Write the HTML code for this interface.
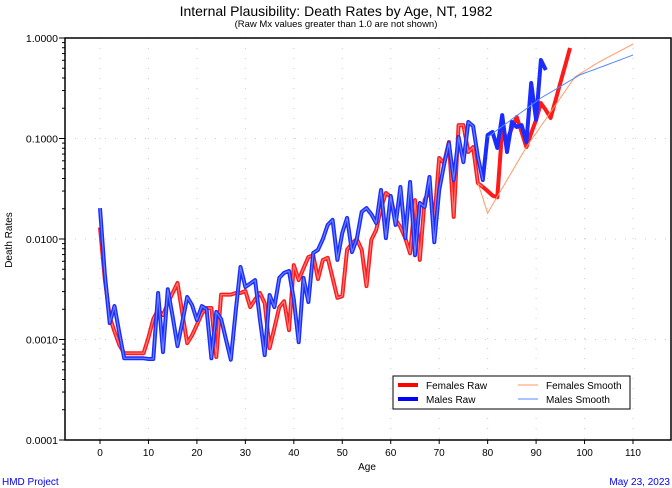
<!DOCTYPE html>
<html><head><meta charset="utf-8"><style>
body{margin:0;background:#fff;}
svg{display:block;font-family:"Liberation Sans",sans-serif;}
</style></head><body>
<svg id="chart" width="672" height="488" viewBox="0 0 672 488" xmlns="http://www.w3.org/2000/svg">
<text x="336" y="16" text-anchor="middle" font-size="14">Internal Plausibility: Death Rates by Age, NT, 1982</text>
<text x="336" y="27" text-anchor="middle" font-size="9.5">(Raw Mx values greater than 1.0 are not shown)</text>
<g id="grid"></g>
<g id="axes"></g>
<g id="series"></g>
<rect x="65" y="38" width="606" height="402" fill="none" stroke="#000" stroke-width="1.5"/>
<text transform="translate(12,240) rotate(-90)" text-anchor="middle" font-size="10">Death Rates</text>
<text x="367" y="470" text-anchor="middle" font-size="10">Age</text>
<g>
<rect x="393" y="376" width="237" height="33" fill="#fff" stroke="#000" stroke-width="1"/>
<line x1="398" y1="385" x2="418" y2="385" stroke="#ff0000" stroke-width="4"/>
<text x="426" y="389" font-size="10">Females Raw</text>
<line x1="398" y1="399" x2="418" y2="399" stroke="#0000ff" stroke-width="4"/>
<text x="426" y="403" font-size="10">Males Raw</text>
<line x1="518" y1="385" x2="538" y2="385" stroke="#ff9966" stroke-width="1"/>
<text x="546" y="389" font-size="10">Females Smooth</text>
<line x1="518" y1="399" x2="538" y2="399" stroke="#5588ff" stroke-width="1"/>
<text x="546" y="403" font-size="10">Males Smooth</text>
</g>
<text x="2" y="485" font-size="10" fill="#0000ff">HMD Project</text>
<text x="670" y="485" text-anchor="end" font-size="10" fill="#0000ff">May 23, 2023</text>
</svg>
<script>
const xTicks=[0,10,20,30,40,50,60,70,80,90,100,110];
const yTicks=[1,0.1,0.01,0.001,0.0001];
const yTickLabels=["1.0000","0.1000","0.0100","0.0010","0.0001"];
const femalesRaw=[0.013,0.004,0.00168,0.0012,0.00088,0.00073,0.00073,0.00073,0.00073,0.00073,0.00105,0.0016,0.00197,0.00175,0.0023,0.0029,0.00365,0.0018,0.00092,0.0011,0.0014,0.0018,0.00206,0.00206,0.00067,0.0028,0.0028,0.0028,0.0029,0.0029,0.00304,0.0021,0.0025,0.0029,0.0023,0.00082,0.0013,0.0021,0.0024,0.00124,0.0055,0.0039,0.0051,0.0066,0.0069,0.004,0.0062,0.0065,0.0041,0.0026,0.0027,0.0078,0.009,0.01,0.0078,0.0034,0.0098,0.0123,0.0203,0.0287,0.0263,0.0155,0.0132,0.0102,0.0072,0.0244,0.0062,0.0244,0.0307,0.0155,0.064,0.057,0.0923,0.0166,0.136,0.136,0.0734,0.0822,0.036,0.033,0.030,0.027,0.026,0.122,0.097,0.127,0.164,0.116,0.0822,0.113,0.153,0.225,0.192,0.16,0.239,0.357,0.532,0.795];
const malesRaw=[0.0203,0.0045,0.00146,0.00215,0.00115,0.00065,0.00065,0.00065,0.00065,0.00065,0.00064,0.00064,0.0029,0.00075,0.00316,0.00168,0.00086,0.0015,0.00265,0.0022,0.00156,0.00215,0.002,0.00065,0.00188,0.0016,0.001,0.00063,0.0019,0.00527,0.00333,0.0036,0.0039,0.0016,0.0007,0.00277,0.0021,0.0041,0.0046,0.0048,0.0025,0.00094,0.0041,0.00236,0.00726,0.0078,0.01,0.0138,0.0155,0.0062,0.0115,0.0162,0.0074,0.01,0.0186,0.0203,0.0177,0.0144,0.0307,0.0102,0.0268,0.0138,0.0329,0.0102,0.0369,0.0069,0.0228,0.0208,0.0414,0.0093,0.0307,0.0545,0.0902,0.0386,0.1035,0.0583,0.146,0.133,0.0655,0.0386,0.108,0.116,0.0804,0.171,0.0734,0.146,0.13,0.136,0.0923,0.357,0.153,0.604,0.48];
const smoothStartF=78;
const femalesSmooth=[0.036,0.0257,0.018,0.0219,0.0265,0.032,0.0386,0.0467,0.0564,0.068,0.0822,0.0966,0.113,0.133,0.156,0.184,0.215,0.253,0.297,0.348,0.409,0.439,0.47,0.503,0.54,0.577,0.612,0.65,0.689,0.731,0.774,0.822,0.871];
const smoothStartM=80;
const malesSmooth=[0.1035,0.112,0.122,0.132,0.143,0.156,0.169,0.183,0.198,0.215,0.233,0.253,0.27,0.288,0.308,0.33,0.352,0.376,0.401,0.428,0.447,0.466,0.485,0.506,0.527,0.55,0.573,0.597,0.623,0.65,0.678];

const NS="http://www.w3.org/2000/svg";
const X=a=>100+a*(533/110);
const Y=v=>38-Math.log10(v)*100.5;
function mk(tag,attrs,parent){const e=document.createElementNS(NS,tag);for(const k in attrs)e.setAttribute(k,attrs[k]);parent.appendChild(e);return e;}
const grid=document.getElementById('grid'),axes=document.getElementById('axes'),ser=document.getElementById('series');
xTicks.forEach(t=>{
  const g=mk('line',{x1:X(t),x2:X(t),y1:38,y2:440,stroke:'#ccc','stroke-dasharray':'1,9'},grid);
  
  
  const tk=mk('line',{x1:X(t),x2:X(t),y1:440,y2:444,stroke:'#000'},axes);
  
  
  const l=mk('text',{x:X(t),y:456,'text-anchor':'middle','font-size':'10'},axes);
  
  
  l.textContent=t;
});
yTicks.forEach((t,i)=>{
  const g=mk('line',{x1:65,x2:671,y1:Y(t),y2:Y(t),stroke:'#ccc','stroke-dasharray':'1,9'},grid);
  
  
  const tk=mk('line',{x1:59,x2:65,y1:Y(t),y2:Y(t),stroke:'#000'},axes);
  
  
  const l=mk('text',{x:58,y:Y(t)+4,'text-anchor':'end','font-size':'10.5'},axes);
  
  
  l.textContent=yTickLabels[i];
  if(i<yTicks.length-1){for(let m=2;m<=9;m++){
    const mt=mk('line',{x1:62,x2:65,y1:Y(yTicks[i+1]*m),y2:Y(yTicks[i+1]*m),stroke:'#000'},axes);
    
    
  }}
});
function pts(arr,start){return arr.map((v,i)=>X(start+i).toFixed(1)+','+Y(v).toFixed(1)).join(' ');}
function raw(arr,col,inner,name){
  const p=mk('polyline',{points:pts(arr,0),fill:'none',stroke:col,'stroke-width':4,'stroke-linejoin':'round'},ser);
  
  
  const early=arr.slice(0,80);
  const q=mk('polyline',{points:pts(early,0),fill:'none',stroke:inner,'stroke-width':1.2,'stroke-linejoin':'round'},ser);
  
  
}
raw(femalesRaw,'#ff1a1a','#ff7a7a','females-raw-line');
raw(malesRaw,'#1a2cff','#6a80ff','males-raw-line');
const fs=mk('polyline',{points:pts(femalesSmooth,smoothStartF),fill:'none',stroke:'#ff9966','stroke-width':1},ser);


const ms=mk('polyline',{points:pts(malesSmooth,smoothStartM),fill:'none',stroke:'#5588ff','stroke-width':1},ser);


</script>
</body></html>
